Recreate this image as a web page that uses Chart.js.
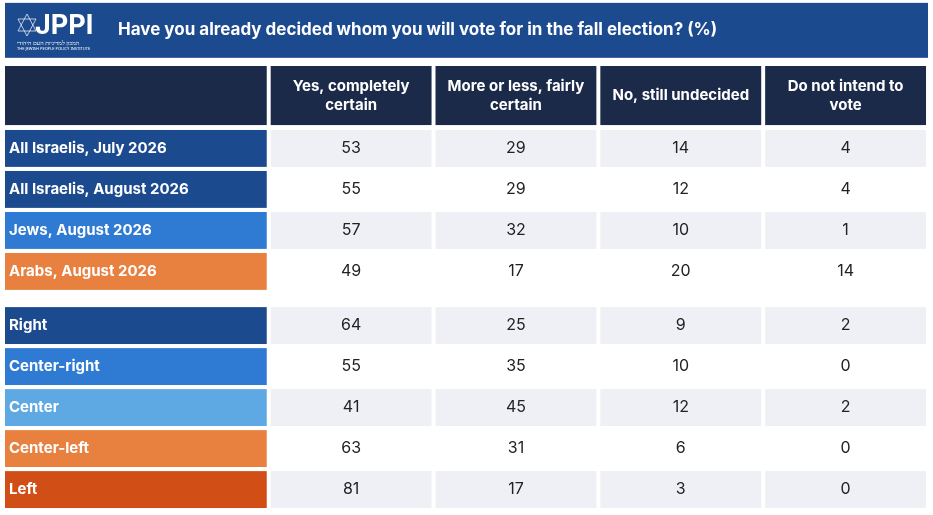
<!DOCTYPE html>
<html><head><meta charset="utf-8">
<script src="https://cdn.jsdelivr.net/npm/chart.js@4"></script>
<style>body{margin:0;background:#fff}#wrap{width:933px;height:515px}</style>
</head><body><div id="wrap"><canvas id="c"></canvas></div>
<script>
const title = 'Have you already decided whom you will vote for in the fall election? (%)';
const columns = [['Yes, completely', 'certain'], ['More or less, fairly', 'certain'], ['No, still undecided'], ['Do not intend to', 'vote']];
const groups = ['All Israelis, July 2026', 'All Israelis, August 2026', 'Jews, August 2026', 'Arabs, August 2026', 'Right', 'Center-right', 'Center', 'Center-left', 'Left'];
const groupColors = ['#1b4a8e', '#1b4a8e', '#2f7ad3', '#e8803f', '#1b4a8e', '#2f7ad3', '#5ea9e4', '#e8803f', '#d14f16'];
const yesCertain = [53, 55, 57, 49, 64, 55, 41, 63, 81];
const fairlyCertain = [29, 29, 32, 17, 25, 35, 45, 31, 17];
const undecided = [14, 12, 10, 20, 9, 10, 12, 6, 3];
const notVoting = [4, 4, 1, 14, 2, 0, 2, 0, 0];
const series = [yesCertain, fairlyCertain, undecided, notVoting];

// column edges in x units, row top in y units (gap after row 4)
const colEdge = [0, 1.6, 2.6, 3.6, 4.6, 5.6];
const rowTop = i => i + (i >= 4 ? 0.32 : 0);
const FONT = 'Inter, "Noto Sans", sans-serif';

const points = [];
series.forEach((vals, c) => vals.forEach((v, r) => points.push({x: (colEdge[c + 1] + colEdge[c + 2]) / 2, y: rowTop(r) + 0.45, v})));

const tablePlugin = {
  id: 'table',
  beforeDatasetsDraw(chart) {
    const {ctx, scales: {x, y}} = chart;
    const rect = (x0, y0, x1, y1, col) => { ctx.fillStyle = col; ctx.fillRect(x.getPixelForValue(x0), y.getPixelForValue(y0), x.getPixelForValue(x1) - x.getPixelForValue(x0), y.getPixelForValue(y1) - y.getPixelForValue(y0)); };
    const gap = 0.012;
    // title bar
    rect(colEdge[0], -3.1, colEdge[5], -1.76, '#1c4a8f');
    ctx.fillStyle = '#fff'; ctx.textBaseline = 'middle'; ctx.textAlign = 'left';
    ctx.font = 'bold 17px ' + FONT;
    ctx.fillText(title, 118, y.getPixelForValue(-2.43));
    ctx.font = 'bold 27px ' + FONT; ctx.fillText('JPPI', 35, 26);
    ctx.font = '6px "Noto Sans"'; ctx.fillText('המכון למדיניות העם היהודי', 17, 43);
    ctx.font = '4px "Noto Sans"'; ctx.fillText('THE JEWISH PEOPLE POLICY INSTITUTE', 17, 49);
    ctx.strokeStyle = 'rgba(255,255,255,0.7)'; ctx.lineWidth = 1;
    ctx.beginPath(); ctx.moveTo(27, 14); ctx.lineTo(36, 31); ctx.lineTo(18, 31); ctx.closePath(); ctx.stroke();
    ctx.beginPath(); ctx.moveTo(27, 36); ctx.lineTo(36, 19); ctx.lineTo(18, 19); ctx.closePath(); ctx.stroke();
    // header
    for (let c = 0; c < 5; c++) rect(colEdge[c] + (c ? gap : 0), -1.56, colEdge[c + 1] - gap, -0.12, '#1c2a4a');
    ctx.fillStyle = '#fff'; ctx.textAlign = 'center'; ctx.font = 'bold 15px ' + FONT;
    columns.forEach((lines, c) => {
      const cx = x.getPixelForValue((colEdge[c + 1] + colEdge[c + 2]) / 2);
      const cy = y.getPixelForValue(-0.84);
      lines.forEach((t, i) => ctx.fillText(t, cx, cy + (i - (lines.length - 1) / 2) * 19));
    });
    // rows
    groups.forEach((g, r) => {
      const t = rowTop(r), b = t + 0.9;
      rect(colEdge[0], t, colEdge[1] - gap, b, groupColors[r]);
      const bg = r % 2 === 0 ? '#eef0f5' : '#ffffff';
      for (let c = 1; c < 5; c++) rect(colEdge[c] + gap, t, colEdge[c + 1] - gap, b, bg);
      ctx.fillStyle = '#fff'; ctx.textAlign = 'left'; ctx.font = 'bold 15px ' + FONT;
      ctx.fillText(g, 9, y.getPixelForValue(t + 0.45));
    });
  },
  afterDatasetsDraw(chart) {
    const {ctx, scales: {x, y}} = chart;
    ctx.fillStyle = '#222'; ctx.textAlign = 'center'; ctx.textBaseline = 'middle';
    ctx.font = '16px ' + FONT;
    points.forEach(p => ctx.fillText(String(p.v), x.getPixelForValue(p.x), y.getPixelForValue(p.y)));
  }
};

new Chart(document.getElementById('c'), {
  type: 'scatter',
  data: {datasets: [{data: points, pointRadius: 0, pointHoverRadius: 0}]},
  options: {
    responsive: true, maintainAspectRatio: false, animation: false,
    layout: {padding: 0},
    plugins: {legend: {display: false}, tooltip: {enabled: false}},
    scales: {
      x: {type: 'linear', display: false, min: -5 / 164.8, max: 5.6 + 5 / 164.8},
      y: {type: 'linear', display: false, reverse: true, min: -3.17, max: 9.39}
    }
  },
  plugins: [tablePlugin]
});
</script>
</body></html>
